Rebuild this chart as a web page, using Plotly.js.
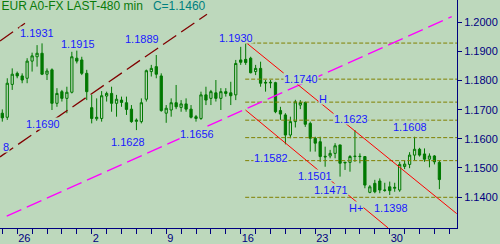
<!DOCTYPE html>
<html><head><meta charset="utf-8">
<script src="https://cdn.plot.ly/plotly-3.0.1.min.js"></script>
<style>html,body{margin:0;padding:0;background:#bdd8bc;overflow:hidden}</style>
</head><body><div id="chart" style="width:500px;height:244px"></div>
<script>
// ---- data (EUR A0-FX, 480 min bars) ----
const opens  = [1.1688,1.1674,1.1787,1.1825,1.1816,1.1808,1.1867,1.1882,1.1894,1.1822,
                1.1837,1.1722,1.1762,1.1739,1.1760,1.1877,1.1871,1.1825,1.1707,1.1669,
                1.1670,1.1747,1.1756,1.1722,1.1733,1.1724,1.1702,1.1660,1.1659,1.1736,
                1.1831,1.1848,1.1816,1.1688,1.1699,1.1724,1.1708,1.1720,1.1702,1.1676,
                1.1670,1.1751,1.1739,1.1758,1.1739,1.1762,1.1758,1.1751,1.1871,1.1873,
                1.1877,1.1831,1.1842,1.1794,1.1792,1.1793,1.1697,1.1682,1.1613,1.1659,
                1.1716,1.1725,1.1653,1.1602,1.1590,1.1540,1.1541,1.1550,1.1579,1.1517,
                1.1519,1.1539,1.1540,1.1539,1.1416,1.1447,1.1455,1.1424,1.1435,1.1430,
                1.1424,1.1505,1.1512,1.1544,1.1564,1.1548,1.1530,1.1541,1.1519];
const highs  = [1.1701,1.1808,1.1842,1.1831,1.1825,1.1877,1.1896,1.1922,1.1928,1.1842,
                1.1842,1.1774,1.1768,1.1779,1.1899,1.1903,1.1882,1.1837,1.1751,1.1739,
                1.1764,1.1762,1.1779,1.1751,1.1745,1.1745,1.1716,1.1670,1.1739,1.1838,
                1.1854,1.1888,1.1825,1.1716,1.1739,1.1785,1.1733,1.1739,1.1716,1.1682,
                1.1762,1.1779,1.1768,1.1802,1.1774,1.1774,1.1796,1.1871,1.1916,1.1928,
                1.1882,1.1854,1.1865,1.1802,1.1802,1.1796,1.1710,1.1688,1.1676,1.1734,
                1.1733,1.1728,1.1659,1.1607,1.1607,1.1573,1.1562,1.1585,1.1579,1.1521,
                1.1544,1.1630,1.1550,1.1539,1.1441,1.1459,1.1464,1.1449,1.1453,1.1449,
                1.1521,1.1526,1.1554,1.1607,1.1569,1.1567,1.1550,1.1544,1.1524];
const lows   = [1.1659,1.1665,1.1768,1.1808,1.1791,1.1791,1.1831,1.1848,1.1819,1.1802,
                1.1699,1.1710,1.1728,1.1688,1.1756,1.1859,1.1819,1.1733,1.1653,1.1662,
                1.1659,1.1728,1.1693,1.1676,1.1710,1.1682,1.1655,1.1630,1.1653,1.1728,
                1.1814,1.1808,1.1693,1.1655,1.1676,1.1702,1.1693,1.1693,1.1670,1.1659,
                1.1665,1.1716,1.1716,1.1728,1.1699,1.1745,1.1716,1.1733,1.1854,1.1854,
                1.1825,1.1819,1.1779,1.1762,1.1774,1.1688,1.1665,1.1581,1.1602,1.1639,
                1.1702,1.1641,1.1556,1.1556,1.1521,1.1504,1.1533,1.1533,1.1470,1.1493,
                1.1487,1.1521,1.1516,1.1430,1.1413,1.1413,1.1413,1.1418,1.1407,1.1418,
                1.1418,1.1496,1.1499,1.1527,1.1539,1.1521,1.1502,1.1512,1.1427];
const closes = [1.1672,1.1791,1.1822,1.1816,1.1802,1.1867,1.1885,1.1894,1.1822,1.1833,
                1.1722,1.1756,1.1739,1.1760,1.1882,1.1867,1.1825,1.1762,1.1670,1.1674,
                1.1748,1.1756,1.1722,1.1736,1.1725,1.1701,1.1659,1.1664,1.1724,1.1834,
                1.1842,1.1822,1.1697,1.1705,1.1724,1.1710,1.1720,1.1702,1.1674,1.1670,
                1.1751,1.1733,1.1762,1.1739,1.1762,1.1756,1.1748,1.1859,1.1863,1.1862,
                1.1827,1.1842,1.1791,1.1792,1.1794,1.1693,1.1685,1.1613,1.1659,1.1727,
                1.1725,1.1650,1.1602,1.1585,1.1539,1.1538,1.1550,1.1576,1.1516,1.1519,
                1.1539,1.1540,1.1539,1.1441,1.1435,1.1418,1.1424,1.1423,1.1422,1.1433,
                1.1512,1.1513,1.1544,1.1564,1.1544,1.1530,1.1541,1.1521,1.1460];

const dayLabels = ['26','2','9','16','23','30'];
const firstLabelBar = 3;
const barsPerWeek = 15;
const barsPerDay = 3;
const priceTicks = [1.14,1.15,1.16,1.17,1.18,1.19,1.20];

// Fibonacci retracement levels (olive dashed lines) and their first bar
const fibLevels = [1.1929,1.1805,1.1726,1.1664,1.1604,1.1525,1.1399];
const fibStartBar = 48.9;

// trend lines: [bar, price] end points
const maroonLineA = {bars:[-0.46,4.57],  prices:[1.1936,1.1997]};
const maroonLineB = {bars:[-0.46,41.21], prices:[1.1538,1.2028]};
const magentaLine = {bars:[0.89,90.48],  prices:[1.1334,1.2020]};
const redLineUpper = {bars:[49.27,91.48], prices:[1.1928,1.1343]};
const redLineLower = {bars:[48.96,77.65], prices:[1.1699,1.1294]};

// swing labels
const swingTexts  = ['1.1931','1.1915','1.1889','1.1930','1.1690','1.1628','1.1656','1.1740','H',
                     '1.1623','1.1582','1.1501','1.1471','H+','1.1398','1.1608','8'];
const swingBars   = [6.99,15.24,28.13,47.15,8.25,25.21,39.20,60.14,64.57,70.20,54.10,63.02,66.18,71.21,78.16,82.18,0.70];
const swingPrices = [1.1967,1.1929,1.1946,1.1948,1.1653,1.1592,1.1618,1.1808,1.1737,1.1669,1.1536,1.1473,1.1425,1.1363,1.1364,1.1642,1.1572];

const titleText = 'EUR A0-FX LAST-480 min';
const closeText = 'C=1.1460';

// ---- drawing ----
const bg = '#bdd8bc';
const navy = '#000080';
const candleGreen = '#007800';
const fontFam = 'Liberation Sans, Arial, sans-serif';
const xMin = -0.463, xMax = 91.545;
const yMin = 1.12935, yMax = 1.2077;

const bars = opens.map((_, i) => i);
const traces = [{
  type: 'candlestick', x: bars, open: opens, high: highs, low: lows, close: closes,
  increasing: {line: {color: candleGreen, width: 1}, fillcolor: bg},
  decreasing: {line: {color: candleGreen, width: 1}, fillcolor: candleGreen},
  whiskerwidth: 0, hoverinfo: 'skip', showlegend: false
}];

function lineTrace(bx, py, color, width, dash) {
  return {type: 'scatter', mode: 'lines', x: bx, y: py,
          line: {color: color, width: width, dash: dash},
          hoverinfo: 'skip', showlegend: false};
}
fibLevels.forEach(lv => traces.push(lineTrace([fibStartBar, xMax], [lv, lv], '#808000', 1, '4px,2px')));
traces.push(lineTrace(maroonLineA.bars, maroonLineA.prices, '#800000', 1.3, '16px,6px'));
traces.push(lineTrace(maroonLineB.bars, maroonLineB.prices, '#800000', 1.3, '16px,6px'));
traces.push(lineTrace(magentaLine.bars, magentaLine.prices, '#ff00ff', 1.3, '16px,6px'));
traces.push(lineTrace(redLineUpper.bars, redLineUpper.prices, '#ff0000', 1, 'solid'));
traces.push(lineTrace(redLineLower.bars, redLineLower.prices, '#ff0000', 1, 'solid'));

const tickVals = [];
for (let b = 0; b <= Math.floor(xMax); b += barsPerDay) tickVals.push(b);
const tickText = tickVals.map(b => {
  const d = b - firstLabelBar;
  return (d >= 0 && d % barsPerWeek === 0) ? (dayLabels[d / barsPerWeek] || '') : '';
});

const annotations = swingTexts.map((t, i) => ({
  text: t, x: swingBars[i], y: swingPrices[i], xref: 'x', yref: 'y',
  showarrow: false, xanchor: 'center', yanchor: 'middle',
  font: {family: fontFam, size: 11, color: '#1818ff'},
  bgcolor: bg, borderpad: 0, height: 11
}));

const layout = {
  width: 500, height: 244,
  margin: {l: 0, r: 43, t: 0, b: 16, pad: 0},
  paper_bgcolor: bg, plot_bgcolor: bg,
  showlegend: false,
  title: {
    text: titleText + '&nbsp;&nbsp;&nbsp;<span style="color:#008080">' + closeText + '</span>',
    font: {family: fontFam, size: 12, color: '#0a7a0a'},
    xref: 'container', yref: 'container', x: 0.003, xanchor: 'left', y: 0.995, yanchor: 'top',
    pad: {t: 0, l: 0, r: 0, b: 0}
  },
  xaxis: {
    range: [xMin, xMax], rangeslider: {visible: false},
    tickmode: 'array', tickvals: tickVals, ticktext: tickText,
    ticks: 'outside', ticklen: 5, tickwidth: 1, tickcolor: navy,
    ticklabelposition: 'outside right',
    tickfont: {family: fontFam, size: 11, color: navy},
    showline: true, linecolor: navy, linewidth: 1,
    showgrid: false, zeroline: false, fixedrange: true
  },
  yaxis: {
    range: [yMin, yMax], side: 'right',
    tickmode: 'array', tickvals: priceTicks, ticktext: priceTicks.map(v => v.toFixed(4)),
    ticks: 'outside', ticklen: 4, tickwidth: 1, tickcolor: navy,
    tickfont: {family: fontFam, size: 11, color: navy},
    showline: true, linecolor: navy, linewidth: 1,
    showgrid: false, zeroline: false, fixedrange: true
  },
  boxgap: 0.35, boxgroupgap: 0.3,
  annotations: annotations
};

Plotly.newPlot('chart', traces, layout, {staticPlot: true, displayModeBar: false});
</script>
</body></html>
